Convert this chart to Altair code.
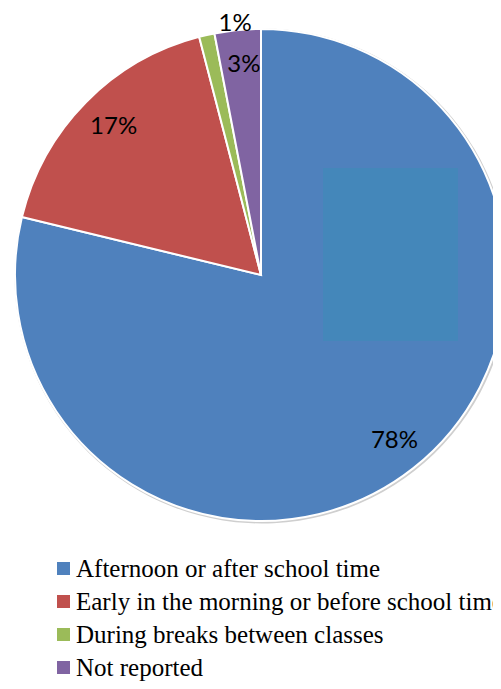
import altair as alt
import pandas as pd

categories = [
    "Afternoon or after school time",
    "Early in the morning or before school time",
    "During breaks between classes",
    "Not reported",
]
values = [78, 17, 1, 3]
labels = ["78%", "17%", "1%", "3%"]
colors = ["#4F81BD", "#C0504D", "#9BBB59", "#8064A2"]

df = pd.DataFrame({
    "category": categories,
    "value": values,
    "label": labels,
    "order": list(range(len(categories))),
})

CX, CY, R = 253, 267, 246

base = alt.Chart(df).encode(
    theta=alt.Theta("value:Q", stack=True),
    order=alt.Order("order:Q"),
    x=alt.value(CX),
    y=alt.value(CY),
)

shadow = alt.Chart(df).mark_arc(radius=R + 1.5, color="#cfcfcf").encode(
    theta=alt.Theta("value:Q", stack=True),
    order=alt.Order("order:Q"),
    x=alt.value(CX + 1),
    y=alt.value(CY + 1),
)

arcs = base.mark_arc(radius=R, stroke="white", strokeWidth=2).encode(
    color=alt.Color(
        "category:N",
        sort=categories,
        scale=alt.Scale(domain=categories, range=colors),
        legend=alt.Legend(
            title=None,
            orient="none",
            legendX=43,
            legendY=548,
            padding=0,
            symbolType="square",
            symbolSize=170,
            symbolStrokeWidth=0,
            labelFont="Liberation Serif",
            labelFontSize=25,
            labelColor="black",
            labelLimit=0,
            labelOffset=0,
            rowPadding=7,
        ),
    )
)

artifact = alt.Chart(df).mark_rect(color="#4487BA").encode(
    x=alt.value(315), x2=alt.value(450), y=alt.value(160), y2=alt.value(333)
).transform_filter("datum.order == 0")

main_labels = base.transform_calculate(
    t="datum.label == '1%' ? '' : datum.label"
).mark_text(radius=211, dx=3, font="Lato", fontSize=24, color="black").encode(
    text="t:N"
)

small_label = base.transform_calculate(
    t="datum.label == '1%' ? datum.label : ''"
).mark_text(radius=258, dx=31, dy=1, font="Lato", fontSize=24, color="black").encode(
    text="t:N"
)

chart = alt.layer(shadow, arcs, artifact, main_labels, small_label).properties(
    width=485,
    height=673,
    autosize=alt.AutoSizeParams(type="none"),
    padding=0,
).configure_view(stroke=None)

chart.save("out.html", embed_options={"renderer": "svg", "actions": False})
